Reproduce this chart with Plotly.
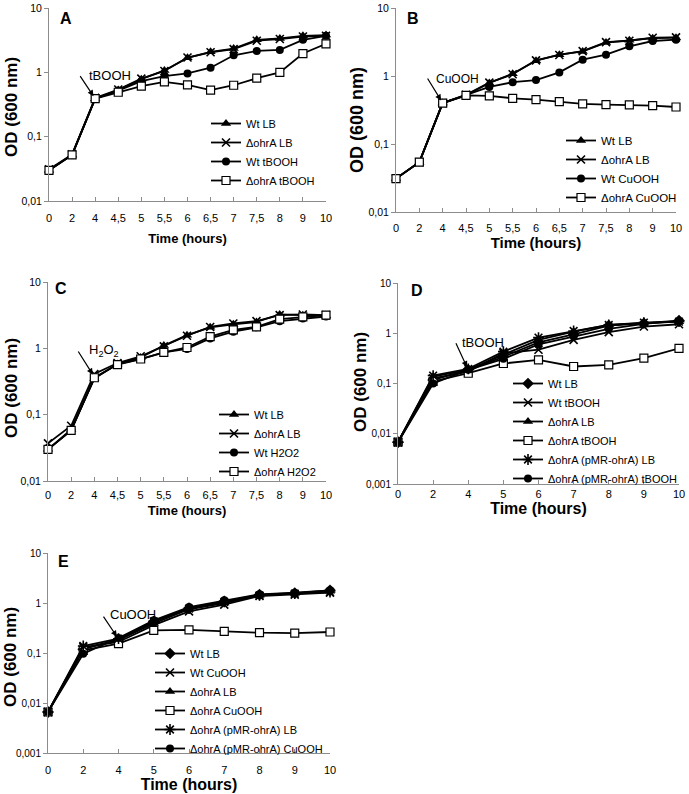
import math
import plotly.graph_objects as go

W, H = 689, 794
FONT = "Liberation Sans, Arial, sans-serif"

# ---------------- data ----------------
times_ABC = ["0", "2", "4", "4,5", "5", "5,5", "6", "6,5", "7", "7,5", "8", "9", "10"]
times_DE = ["0", "2", "4", "5", "6", "7", "8", "9", "10"]

# Panel A (tBOOH)
A_wt_lb = [0.030, 0.052, 0.39, 0.53, 0.78, 1.07, 1.68, 2.08, 2.34, 3.2, 3.36, 3.7, 3.8]
A_ohra_lb = [0.031, 0.053, 0.40, 0.54, 0.80, 1.05, 1.70, 2.05, 2.30, 3.1, 3.30, 3.6, 3.7]
A_wt_t = [0.030, 0.052, 0.39, 0.52, 0.73, 0.87, 0.96, 1.18, 1.84, 2.15, 2.23, 3.2, 3.7]
A_ohra_t = [0.030, 0.052, 0.39, 0.49, 0.61, 0.71, 0.64, 0.53, 0.63, 0.81, 1.00, 1.96, 2.77]

# Panel B (CuOOH)
B_wt_lb = [0.031, 0.054, 0.40, 0.52, 0.79, 1.08, 1.68, 2.06, 2.30, 3.1, 3.35, 3.6, 3.66]
B_ohra_lb = [0.031, 0.054, 0.40, 0.53, 0.80, 1.06, 1.70, 2.04, 2.32, 3.15, 3.30, 3.65, 3.70]
B_wt_c = [0.031, 0.054, 0.40, 0.52, 0.69, 0.81, 0.87, 1.13, 1.74, 2.06, 2.73, 3.27, 3.42]
B_ohra_c = [0.031, 0.054, 0.40, 0.52, 0.51, 0.47, 0.45, 0.42, 0.39, 0.38, 0.375, 0.367, 0.35]

# Panel C (H2O2)
C_wt_lb = [0.030, 0.060, 0.35, 0.58, 0.73, 1.10, 1.58, 2.07, 2.30, 2.50, 3.24, 3.16, 3.10]
C_ohra_lb = [0.037, 0.068, 0.41, 0.60, 0.76, 1.07, 1.55, 2.10, 2.37, 2.57, 3.16, 3.24, 3.16]
C_wt_h = [0.030, 0.058, 0.36, 0.58, 0.69, 0.87, 0.98, 1.41, 1.78, 2.07, 2.57, 2.82, 3.02]
C_ohra_h = [0.030, 0.058, 0.36, 0.57, 0.69, 0.87, 1.03, 1.50, 1.90, 2.10, 2.75, 2.98, 3.16]

# Panel D (tBOOH, complementation)
D_wt_lb = [0.0068, 0.118, 0.187, 0.34, 0.66, 0.95, 1.42, 1.58, 1.79]
D_wt_t = [0.0068, 0.127, 0.173, 0.40, 0.47, 0.74, 1.05, 1.36, 1.51]
D_ohra_lb = [0.0068, 0.137, 0.187, 0.37, 0.74, 1.08, 1.46, 1.58, 1.70]
D_ohra_t = [0.0068, 0.110, 0.160, 0.25, 0.295, 0.218, 0.235, 0.32, 0.50]
D_pmr_lb = [0.0068, 0.144, 0.195, 0.43, 0.82, 1.11, 1.46, 1.63, 1.70]
D_pmr_t = [0.0068, 0.100, 0.187, 0.31, 0.60, 0.86, 1.22, 1.53, 1.76]

# Panel E (CuOOH, complementation)
E_wt_lb = [0.0066, 0.119, 0.185, 0.42, 0.79, 1.08, 1.47, 1.58, 1.79]
E_wt_c = [0.0066, 0.130, 0.166, 0.36, 0.68, 0.93, 1.38, 1.47, 1.61]
E_ohra_lb = [0.0066, 0.126, 0.180, 0.39, 0.75, 1.00, 1.42, 1.54, 1.71]
E_ohra_c = [0.0066, 0.113, 0.154, 0.284, 0.29, 0.271, 0.255, 0.25, 0.263]
E_pmr_lb = [0.0066, 0.138, 0.193, 0.43, 0.77, 1.05, 1.42, 1.54, 1.66]
E_pmr_c = [0.0066, 0.097, 0.200, 0.45, 0.83, 1.13, 1.49, 1.61, 1.79]

y_ticks_3 = [0.01, 0.1, 1, 10]
y_ticklabels_3 = ["0,01", "0,1", "1", "10"]
y_ticks_4 = [0.001, 0.01, 0.1, 1, 10]
y_ticklabels_4 = ["0,001", "0,01", "0,1", "1", "10"]

# ---------------- styles ----------------
MARK = {
    "tri": dict(symbol="triangle-up", size=9, color="black"),
    "x": dict(symbol="x-thin", size=8, color="black", line=dict(color="black", width=1.6)),
    "circ": dict(symbol="circle", size=8, color="black"),
    "sq": dict(symbol="square", size=8, color="white", line=dict(color="black", width=1.2)),
    "dia": dict(symbol="diamond", size=9, color="black"),
    "ast": dict(symbol="asterisk", size=9, color="black", line=dict(color="black", width=1.6)),
}

panels = [
    dict(times=times_ABC, yt=(y_ticks_3, y_ticklabels_3), yr=[-2, 1],
         box=(49, 326, 8, 201),
         series=[("Wt LB", A_wt_lb, "tri"), ("\u0394ohrA LB", A_ohra_lb, "x"),
                 ("Wt tBOOH", A_wt_t, "circ"), ("\u0394ohrA tBOOH", A_ohra_t, "sq")],
         legend=(206, 109, 11), letter=("A", 66, 18),
         arrow=dict(y=0.39, ax=-16, ay=-24, text="tBOOH", xs=-8, ys=23, fs=13),
         tick=11, ytick=10.5, xt=13, ytf=17, ytpos=(11, 107), tls=7, xst=10),
    dict(times=times_ABC, yt=(y_ticks_3, y_ticklabels_3), yr=[-2, 1],
         box=(396, 676, 8, 212),
         series=[("Wt LB", B_wt_lb, "tri"), ("\u0394ohrA LB", B_ohra_lb, "x"),
                 ("Wt CuOOH", B_wt_c, "circ"), ("\u0394ohrA CuOOH", B_ohra_c, "sq")],
         legend=(561, 126, 11.5), letter=("B", 413, 18),
         arrow=dict(y=0.40, ax=-16, ay=-26, text="CuOOH", xs=-9, ys=24, fs=12),
         tick=11, ytick=10.5, xt=15, ytf=18, ytpos=(357, 120), tls=6, xst=2),
    dict(times=times_ABC, yt=(y_ticks_3, y_ticklabels_3), yr=[-2, 1],
         box=(48, 326, 282, 481),
         series=[("Wt LB", C_wt_lb, "tri"), ("\u0394ohrA LB", C_ohra_lb, "x"),
                 ("Wt H2O2", C_wt_h, "circ"), ("\u0394ohrA H2O2", C_ohra_h, "sq")],
         legend=(214, 400, 11), letter=("C", 61, 289),
         arrow=dict(y=0.37, ax=-17, ay=-27, text="H<sub>2</sub>O<sub>2</sub>", xs=-7, ys=26, fs=13),
         tick=11, ytick=10.5, xt=13, ytf=17, ytpos=(11, 388), tls=4, xst=5),
    dict(times=times_DE, yt=(y_ticks_4, y_ticklabels_4), yr=[-3, 1],
         box=(398, 679, 283, 484),
         series=[("Wt LB", D_wt_lb, "dia"), ("Wt tBOOH", D_wt_t, "x"),
                 ("\u0394ohrA LB", D_ohra_lb, "tri"), ("\u0394ohrA tBOOH", D_ohra_t, "sq"),
                 ("\u0394ohrA (pMR-ohrA) LB", D_pmr_lb, "ast"),
                 ("\u0394ohrA (pMR-ohrA) tBOOH", D_pmr_t, "circ")],
         legend=(508, 369, 11), letter=("D", 417, 290),
         arrow=dict(y=0.187, ax=-13, ay=-28, text="tBOOH", xs=-8, ys=27, fs=13),
         tick=11, ytick=10, xt=16, ytf=17, ytpos=(361, 382), tls=0, xst=1),
    dict(times=times_DE, yt=(y_ticks_4, y_ticklabels_4), yr=[-3, 1],
         box=(48, 330, 553, 753),
         series=[("Wt LB", E_wt_lb, "dia"), ("Wt CuOOH", E_wt_c, "x"),
                 ("\u0394ohrA LB", E_ohra_lb, "tri"), ("\u0394ohrA CuOOH", E_ohra_c, "sq"),
                 ("\u0394ohrA (pMR-ohrA) LB", E_pmr_lb, "ast"),
                 ("\u0394ohrA (pMR-ohrA) CuOOH", E_pmr_c, "circ")],
         legend=(150, 639, 11), letter=("E", 63, 561),
         arrow=dict(y=0.19, ax=-16, ay=-24, text="CuOOH", xs=-11, ys=25, fs=13),
         tick=11, ytick=10, xt=16, ytf=17, ytpos=(10, 657), tls=7, xst=0),
]

fig = go.Figure()
layout = dict(
    width=W, height=H, margin=dict(l=0, r=0, t=0, b=0, autoexpand=False),
    paper_bgcolor="white", plot_bgcolor="white",
    font=dict(family=FONT, color="black", size=11),
    annotations=[],
)

for i, p in enumerate(panels):
    n = "" if i == 0 else str(i + 1)
    xa, ya = "x" + n, "y" + n
    lg = "legend" + n
    x0, x1, y0, y1 = p["box"]
    for name, vals, st in p["series"]:
        fig.add_trace(go.Scatter(
            x=p["times"], y=vals, name=name, mode="lines+markers",
            line=dict(color="black", width=1.8), marker=MARK[st],
            cliponaxis=False, xaxis=xa, yaxis=ya, legend=lg,
        ))
    ncat = len(p["times"])
    layout["xaxis" + n] = dict(
        domain=[x0 / W, x1 / W], anchor=ya, type="category",
        range=[0, ncat - 1], showgrid=False, zeroline=False,
        showline=True, linecolor="#8c8c8c", linewidth=1,
        ticks="inside", ticklen=4, tickcolor="#8c8c8c",
        ticklabelstandoff=p["tls"],
        tickfont=dict(size=p["tick"], family=FONT, color="black"),
        title=dict(text="<b>Time (hours)</b>", font=dict(size=p["xt"], family=FONT),
                   standoff=p["xst"]),
    )
    layout["yaxis" + n] = dict(
        domain=[1 - y1 / H, 1 - y0 / H], anchor=xa, type="log",
        range=p["yr"], showgrid=False, zeroline=False,
        showline=True, linecolor="#8c8c8c", linewidth=1,
        ticks="outside", ticklen=4, tickcolor="#8c8c8c",
        tickvals=p["yt"][0], ticktext=p["yt"][1],
        tickfont=dict(size=p["ytick"], family=FONT, color="black"),
    )
    # y-axis title
    tx, ty = p["ytpos"]
    layout["annotations"].append(dict(
        text="<b>OD (600 nm)</b>", xref="paper", yref="paper",
        x=tx / W, y=1 - ty / H, xanchor="center", yanchor="middle",
        textangle=-90, showarrow=False,
        font=dict(size=p["ytf"], family=FONT, color="black"),
    ))
    lx, ly, lf = p["legend"]
    layout[lg] = dict(
        x=lx / W, y=1 - ly / H, xanchor="left", yanchor="top",
        bgcolor="rgba(0,0,0,0)", borderwidth=0,
        font=dict(size=lf, family=FONT, color="black"),
        itemwidth=30, tracegroupgap=0,
    )
    letter, cx, cy = p["letter"]
    layout["annotations"].append(dict(
        text="<b>%s</b>" % letter, xref="paper", yref="paper",
        x=cx / W, y=1 - cy / H, xanchor="center", yanchor="middle",
        showarrow=False, font=dict(size=16, family=FONT, color="black"),
    ))
    a = p["arrow"]
    xi = p["times"].index("4")
    layout["annotations"].append(dict(
        x=xi, y=math.log10(a["y"]), xref=xa, yref=ya, text="",
        showarrow=True, arrowhead=2, arrowsize=1, arrowwidth=1.2,
        arrowcolor="black", ax=a["ax"], ay=a["ay"], standoff=3,
    ))
    layout["annotations"].append(dict(
        x=xi, y=math.log10(a["y"]), xref=xa, yref=ya, text=a["text"],
        showarrow=False, xanchor="left", yanchor="middle",
        xshift=a["xs"], yshift=a["ys"],
        font=dict(size=a["fs"], family=FONT, color="black"),
    ))

fig.update_layout(**layout)
fig.write_html("out.html", config={"displayModeBar": False},
               post_script="document.body.style.margin='0px';")
